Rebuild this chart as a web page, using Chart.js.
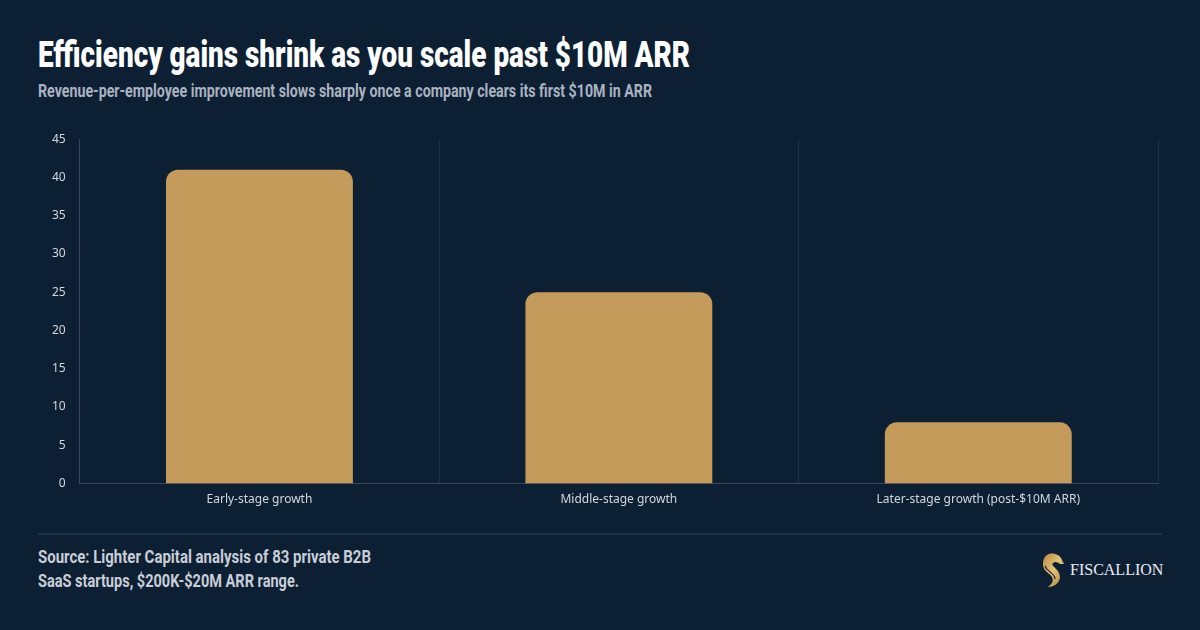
<!DOCTYPE html>
<html>
<head>
<meta charset="utf-8">
<script src="https://cdn.jsdelivr.net/npm/chart.js@4/dist/chart.umd.min.js"></script>
<style>
  html, body { margin: 0; padding: 0; }
  body { width: 1200px; height: 630px; background: #0d1f33; position: relative; overflow: hidden; font-family: "Noto Sans", sans-serif; }
  .cond { position: absolute; font-family: "Roboto", "Liberation Sans", sans-serif; font-weight: 900; white-space: nowrap; transform-origin: 0 0; display: inline-block; }
  #title { left: 38px; top: 33px; font-size: 37px; color: #ffffff; }
  #subtitle { left: 38px; top: 80px; font-size: 18px; color: #aab3c0; font-weight: 700; }
  #src1 { left: 38px; top: 545px; font-size: 19px; color: #c8ced8; font-weight: 700; }
  #src2 { left: 38px; top: 569px; font-size: 19px; color: #c8ced8; font-weight: 700; }
  #chartWrap { position: absolute; left: 30px; top: 118px; width: 1140px; height: 398px; }
  #divider { position: absolute; left: 38px; top: 533px; width: 1124px; height: 2px; background: #1e3044; }
  #logo { position: absolute; left: 1039px; top: 552px; display: flex; align-items: center; }
  #logo span { font-family: "Liberation Serif", serif; font-size: 16px; color: #e8ecf2; margin-left: 5px; letter-spacing: 0px; }
</style>
</head>
<body>
<div id="title" class="cond" data-w="652">Efficiency gains shrink as you scale past $10M ARR</div>
<div id="subtitle" class="cond" data-w="614">Revenue-per-employee improvement slows sharply once a company clears its first $10M in ARR</div>
<div id="chartWrap"><canvas id="c"></canvas></div>
<div id="divider"></div>
<div id="src1" class="cond" data-w="333">Source: Lighter Capital analysis of 83 private B2B</div>
<div id="src2" class="cond" data-w="261">SaaS startups, $200K-$20M ARR range.</div>
<div id="logo">
  <svg width="26" height="36" viewBox="0 0 26 36">
    <defs>
      <linearGradient id="g" x1="0" y1="0" x2="1" y2="1">
        <stop offset="0" stop-color="#b88a3e"/>
        <stop offset="0.5" stop-color="#e2c27a"/>
        <stop offset="1" stop-color="#a97a33"/>
      </linearGradient>
    </defs>
    <path d="M8 3 C13 0 21 2 23 8 L25 12 L21 12 C19 10 16 9 14 11 C11 14 21 17 21 25 C21 31 15 35 9 35 C13 32 15 29 13 25 C11 21 3 19 4 11 C4 7 6 4 8 3 Z" fill="url(#g)"/>
    <path d="M6 14 C8 20 16 21 16 27" stroke="#0d1f33" stroke-width="1.2" fill="none"/>
    <path d="M5 19 C8 24 13 25 12 31" stroke="#0d1f33" stroke-width="1.2" fill="none"/>
  </svg>
  <span>FISCALLION</span>
</div>
<script>
const categories = ["Early-stage growth", "Middle-stage growth", "Later-stage growth (post-$10M ARR)"];
const improvementValues = [41, 25, 8];
const yTicks = [0, 5, 10, 15, 20, 25, 30, 35, 40, 45];

document.querySelectorAll('.cond').forEach(el => {
  const w = el.getBoundingClientRect().width;
  const target = parseFloat(el.dataset.w);
  el.style.transform = 'scaleX(' + (target / w) + ')';
});

new Chart(document.getElementById('c'), {
  type: 'bar',
  data: {
    labels: categories,
    datasets: [{
      data: improvementValues,
      backgroundColor: '#c49b5b',
      borderRadius: 12,
      borderSkipped: 'bottom',
      categoryPercentage: 0.8,
      barPercentage: 0.65
    }]
  },
  options: {
    responsive: true,
    maintainAspectRatio: false,
    animation: false,
    layout: { padding: { left: 8, right: 12, top: 4, bottom: 0 } },
    plugins: { legend: { display: false }, tooltip: { enabled: false } },
    scales: {
      x: {
        grid: { display: true, color: '#1e2f43', lineWidth: 1, drawTicks: false, offset: true },
        border: { display: true, color: '#3b4858', width: 1 },
        ticks: { color: '#d3d8df', font: { family: 'Noto Sans', size: 12 }, padding: 9 }
      },
      y: {
        min: 0, max: 45,
        afterBuildTicks: (axis) => { axis.ticks = yTicks.map(v => ({ value: v })); },
        grid: { display: false, drawTicks: false },
        border: { display: true, color: '#3b4858', width: 1 },
        ticks: { color: '#d3d8df', font: { family: 'Noto Sans', size: 12 }, padding: 14 }
      }
    }
  }
});
</script>
</body>
</html>
